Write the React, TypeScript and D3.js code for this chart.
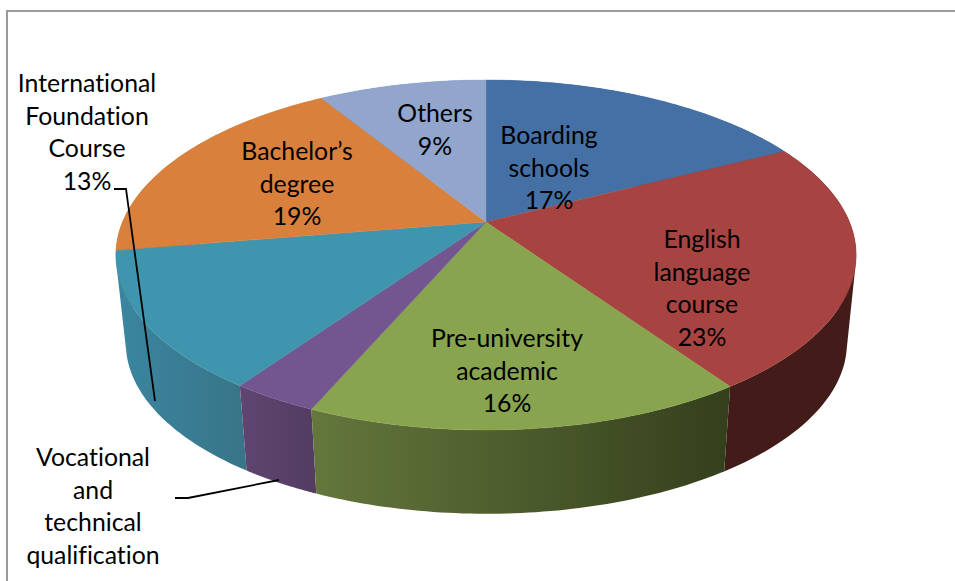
import React from "react";
import * as d3 from "d3";

const categories = ["Boarding schools", "English language course", "Pre-university academic", "Vocational and technical qualification", "International Foundation Course", "Bachelor’s degree", "Others"];
const shares = [17.5, 22.9, 16.1, 3.2, 12.7, 18.8, 8.8];
const topColors = ["#4570a6", "#a74442", "#89a44f", "#735690", "#4095ae", "#d9813c", "#91a5cd"];
const wallFrom = ["#3b5f8c", "#431c1a", "#64773c", "#5f4570", "#3b86a0", "#b06a30", "#7a8bad"];
const wallTo = ["#3b5f8c", "#431c1a", "#343f1c", "#533d63", "#387589", "#b06a30", "#7a8bad"];
const labelLines = [
  ["Boarding", "schools", "17%"],
  ["English", "language", "course", "23%"],
  ["Pre-university", "academic", "16%"],
  ["Vocational", "and", "technical", "qualification"],
  ["International", "Foundation", "Course", "13%"],
  ["Bachelor’s", "degree", "19%"],
  ["Others", "9%"],
];

const labelAnchors = [
  { x: 549, y: 144 },
  { x: 702, y: 248 },
  { x: 507, y: 347 },
  { x: 93, y: 466 },
  { x: 87, y: 92 },
  { x: 297, y: 160 },
  { x: 435, y: 122 },
];
const LINE = 32.7;
const cx = 486, cy = 222, a = 363.5, b = 168.8, k = 0.1886;
const s = 0.974, vx = 500, vy = 3650;

type P = [number, number];
const top = (t: number): P => {
  const u = Math.sin(t), v = -Math.cos(t), d = 1 - k * v;
  return [cx + (a * u) / d, cy + (b * v) / d];
};
const bottom = (t: number): P => {
  const [x, y] = top(t);
  return [vx + s * (x - vx), vy + s * (y - vy)];
};

const arcs = d3.pie<number>().sort(null).value((d) => d)(shares);
const line = d3.line();
const samples = (a0: number, a1: number) => d3.range(0, 61).map((i) => a0 + ((a1 - a0) * i) / 60);

// The wall is the union of small quads, so the straight silhouette between rims is filled too.
function wallPath(a0: number, a1: number) {
  const ts = samples(a0, a1);
  return d3.pairs(ts)
    .map(([t0, t1]) => {
      const quad = [top(t0), top(t1), bottom(t1), bottom(t0)];
      const area = d3.polygonArea(quad);
      return line(area > 0 ? quad : quad.slice().reverse())! + "Z";
    })
    .join("");
}
function topPath(a0: number, a1: number) {
  return line([[cx, cy], ...samples(a0, a1).map(top)])! + "Z";
}
const depthOf = (d: d3.PieArcDatum<number>) => -Math.cos((d.startAngle + d.endAngle) / 2);
const wallOrder = d3.range(arcs.length).sort((i, j) => depthOf(arcs[i]) - depthOf(arcs[j]));

export default function App() {
  const xs = (d: d3.PieArcDatum<number>) =>
    d3.extent(samples(d.startAngle, d.endAngle).map((t) => top(t)[0])) as [number, number];
  return (
    <svg width={955} height={581} style={{ position: "absolute", left: 0, top: 0, background: "#fff", fontVariantLigatures: "none" }} fontFamily="Lato, Carlito, sans-serif">
      <defs>
        {arcs.map((d, i) => {
          const [x0, x1] = xs(d);
          return (
            <linearGradient key={i} id={`wall${i}`} gradientUnits="userSpaceOnUse" x1={x0} x2={x1} y1={0} y2={0}>
              <stop offset="0" stopColor={wallFrom[i]} />
              <stop offset="1" stopColor={wallTo[i]} />
            </linearGradient>
          );
        })}
      </defs>
      <path d="M955 11H7V581" fill="none" stroke="#9a9a9a" strokeWidth={2} />
      {wallOrder.map((i) => (
        <path key={`w${i}`} d={wallPath(arcs[i].startAngle, arcs[i].endAngle)} fill={`url(#wall${i})`} fillRule="nonzero" />
      ))}
      {arcs.map((d, i) => (
        <path key={`t${i}`} d={topPath(d.startAngle, d.endAngle)} fill={topColors[i]} stroke={topColors[i]} strokeWidth={0.4} />
      ))}
      <path d="M114 189H126L155 401" fill="none" stroke="#000" strokeWidth={1.8} />
      <path d="M175 498H188L279 480" fill="none" stroke="#000" strokeWidth={1.8} />
      {labelLines.map((lines, i) => (
        <text key={categories[i]} textAnchor="middle" fontSize={24.8} fill="#000">
          {lines.map((t, j) => (
            <tspan key={j} x={labelAnchors[i].x} y={labelAnchors[i].y + j * LINE}>{t}</tspan>
          ))}
        </text>
      ))}
    </svg>
  );
}
